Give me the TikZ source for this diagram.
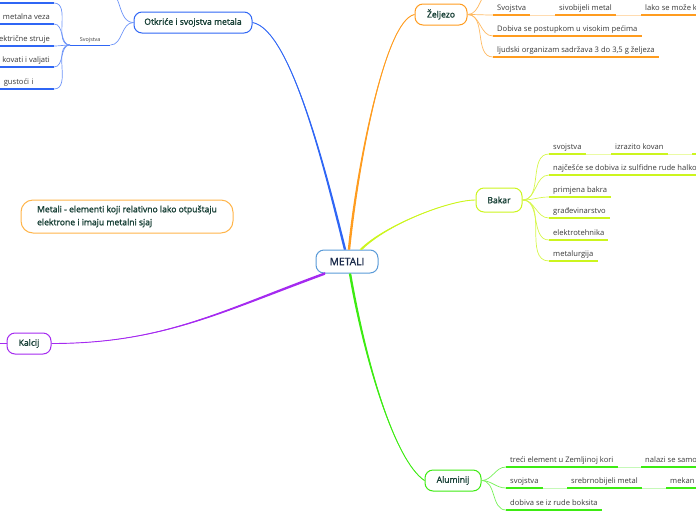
\documentclass[tikz,border=0pt]{standalone}
\usepackage{fontspec}
\setmainfont{Open Sans}
\newfontfamily\topicfont[FakeBold=1.5]{Open Sans}
\usepackage{tikz}
\definecolor{metblue}{HTML}{5A9BD8}
\definecolor{metaltext}{HTML}{1A2A4A}
\definecolor{otkblue}{HTML}{2F66F5}
\definecolor{zeljorange}{HTML}{FF9C1F}
\definecolor{bakaryel}{HTML}{CCF51E}
\definecolor{alugreen}{HTML}{3DEB12}
\definecolor{kalpurple}{HTML}{A52AF0}
\definecolor{defborder}{HTML}{FFB54A}
\definecolor{topictext}{HTML}{173F35}
\definecolor{leaftext}{HTML}{383838}
\tikzset{
  topic/.style={draw, line width=1pt, rounded corners=8pt, fill=white, inner sep=0pt,
                minimum height=21pt, text=topictext, font=\topicfont\fontsize{8.6}{10}\selectfont},
  leaf/.style={anchor=south west, inner xsep=4pt, inner ysep=3pt, text height=5.8pt,
               text depth=1.6pt, text=leaftext, font=\fontsize{7.6}{9}\selectfont},
  leafl/.style={leaf, anchor=south east},
  branch/.style={line width=0.9pt},
  twig/.style={line width=0.7pt},
  uline/.style={line width=1.4pt},
}
\begin{document}
\begin{tikzpicture}[x=1pt,y=-1pt]
  \useasboundingbox (0,0) rectangle (696,520);

  \node[topic, draw=metblue, text=metaltext, minimum width=62pt, minimum height=23pt,
        font=\topicfont\fontsize{10.3}{12}\selectfont] (metali) at (347,261.5) {METALI};
  \node[topic, draw=otkblue, minimum width=118pt] (otk) at (193,22.5) {Otkriće i svojstva metala};
  \node[topic, draw=zeljorange, minimum width=52pt] (zelj) at (441,14.5) {Željezo};
  \node[topic, draw=bakaryel, minimum width=46pt, minimum height=24pt] (bakar) at (499,200) {Bakar};
  \node[topic, draw=kalpurple, minimum width=44pt] (kalcij) at (29,343.5) {Kalcij};
  \node[topic, draw=alugreen, minimum width=56pt] (alu) at (453,480.5) {Aluminij};
  \node[topic, draw=defborder, minimum width=212pt, minimum height=33pt, rounded corners=12pt,
        align=left, font=\topicfont\fontsize{8.6}{13}\selectfont] (def) at (127,216.5)
        {Metali - elementi koji relativno lako otpuštaju\\elektrone i imaju metalni sjaj};

  \draw[branch, otkblue] ([xshift=-2pt]metali.north) .. controls +(-20,-80) and +(38,7) .. (otk.east);
  \fill[otkblue] ([xshift=-3.2pt]metali.north) .. controls +(-20,-80) and +(38,7) .. (otk.east)
    .. controls +(38,7) and +(-20,-80) .. ([xshift=-0.8pt]metali.north) -- cycle;
  \draw[branch, zeljorange] ([xshift=2pt]metali.north) .. controls +(8,-80) and +(-30,6) .. (zelj.west);
  \fill[zeljorange] ([xshift=0.8pt]metali.north) .. controls +(8,-80) and +(-30,6) .. (zelj.west)
    .. controls +(-30,6) and +(8,-80) .. ([xshift=3.2pt]metali.north) -- cycle;
  \draw[branch, bakaryel] ([xshift=14pt]metali.north) .. controls +(25,-25) and +(-26,0) .. (bakar.west);
  \fill[bakaryel] ([xshift=12.5pt]metali.north) .. controls +(25,-25) and +(-26,0) .. (bakar.west)
    .. controls +(-26,0) and +(25,-25) .. ([xshift=15.5pt]metali.north) -- cycle;
  \draw[branch, alugreen] ([xshift=3pt]metali.south) .. controls +(15,87) and +(-30,-20) .. (alu.west);
  \fill[alugreen] ([xshift=1.8pt]metali.south) .. controls +(15,87) and +(-30,-20) .. (alu.west)
    .. controls +(-30,-20) and +(15,87) .. ([xshift=4.2pt]metali.south) -- cycle;
  \draw[branch, kalpurple] ([xshift=-22pt]metali.south) .. controls +(-104,38) and +(111,0) .. (kalcij.east);
  \fill[kalpurple] ([xshift=-22pt,yshift=1.3pt]metali.south) .. controls +(-104,38) and +(111,0) .. (kalcij.east)
    .. controls +(111,0) and +(-104,38) .. ([xshift=-22pt,yshift=-1.3pt]metali.south) -- cycle;
  \coordinate (kalout) at (-6,343.5);
  \draw[branch, kalpurple] (kalcij.west) -- (kalout);

  \coordinate (otkup) at (106,-10);
  \node[anchor=south west, minimum width=40pt, minimum height=10pt, inner sep=0pt,
        text=leaftext, font=\fontsize{5.4}{6}\selectfont] (svoj) at (70,45) {Svojstva};
  \draw[twig, otkblue!70] (otk.west) to[out=180,in=0] (otkup);
  \draw[twig, otkblue!70] (otk.west) to[out=180,in=0] (svoj.south east);
  \draw[otkblue, line width=0.8pt] (svoj.south west) -- (svoj.south east);
  \coordinate (o0) at (54,3);
  \node[leafl] (o1) at (54,24) {metalna veza};
  \node[leafl] (o2) at (54,46) {ektrične struje};
  \node[leafl] (o3) at (54,67) {kovati i valjati};
  \node[leafl, text width=46pt, align=left] (o4) at (54,89) {gustoći i};
  \draw[uline, otkblue] (o0) -- ++(-60,0);
  \draw[twig, otkblue!70] (svoj.south west) to[out=180,in=0] (o0);
  \foreach \n in {o1,o2,o3,o4} {
    \draw[uline, otkblue] (\n.south west) -- (\n.south east);
    \draw[twig, otkblue!70] (svoj.south west) to[out=180,in=0] (\n.south east);
  }

  \coordinate (zup) at (493,-10);
  \node[leaf] (zs1) at (493,15) {Svojstva};
  \node[leaf] (zs2) at (555,15) {sivobijeli metal};
  \node[leaf] (zs3) at (641,15) {lako se može k};
  \node[leaf] (z2) at (493,36) {Dobiva se postupkom u visokim pećima};
  \node[leaf] (z3) at (493,57) {ljudski organizam sadržava 3 do 3,5 g željeza};
  \draw[twig, zeljorange!70] (zelj.east) to[out=0,in=180] (zup);
  \foreach \n in {zs1,z2,z3}
    \draw[twig, zeljorange!70] (zelj.east) to[out=0,in=180] (\n.south west);
  \foreach \n in {zs1,zs2,zs3,z2,z3}
    \draw[uline, zeljorange] (\n.south west) -- (\n.south east);
  \draw[twig, zeljorange!35] (zs1.south east) -- (zs2.south west);
  \draw[twig, zeljorange!35] (zs2.south east) -- (zs3.south west);

  \node[leaf] (bs1) at (549,154) {svojstva};
  \node[leaf] (bs2) at (611,154) {izrazito kovan};
  \coordinate (bs3) at (692,154);
  \node[leaf] (b2) at (549,175) {najčešće se dobiva iz sulfidne rude halkop};
  \node[leaf] (b3) at (549,197) {primjena bakra};
  \node[leaf] (b4) at (549,218) {građevinarstvo};
  \node[leaf] (b5) at (549,240) {elektrotehnika};
  \node[leaf] (b6) at (549,261) {metalurgija};
  \foreach \n in {bs1,b2,b3,b4,b5,b6}
    \draw[twig, bakaryel!80] (bakar.east) to[out=0,in=180] (\n.south west);
  \foreach \n in {bs1,bs2,b2,b3,b4,b5,b6}
    \draw[uline, bakaryel] (\n.south west) -- (\n.south east);
  \draw[twig, bakaryel!40] (bs1.south east) -- (bs2.south west);
  \draw[twig, bakaryel!40] (bs2.south east) -- (bs3);
  \draw[uline, bakaryel] (bs3) -- ++(10,0);

  \node[leaf] (as1) at (506,467) {treći element u Zemljinoj kori};
  \node[leaf] (as1b) at (641,467) {nalazi se samo};
  \node[leaf] (as2) at (506,488) {svojstva};
  \node[leaf] (as2b) at (567,488) {srebrnobijeli metal};
  \node[leaf] (as2c) at (666,488) {mekan};
  \node[leaf] (a3) at (506,510) {dobiva se iz rude boksita};
  \foreach \n in {as1,as2,a3}
    \draw[twig, alugreen!70] (alu.east) to[out=0,in=180] (\n.south west);
  \foreach \n in {as1,as1b,as2,as2b,as2c,a3}
    \draw[uline, alugreen] (\n.south west) -- (\n.south east);
  \draw[twig, alugreen!30] (as1.south east) -- (as1b.south west);
  \draw[twig, alugreen!30] (as2.south east) -- (as2b.south west);
  \draw[twig, alugreen!30] (as2b.south east) -- (as2c.south west);
\end{tikzpicture}
\end{document}
